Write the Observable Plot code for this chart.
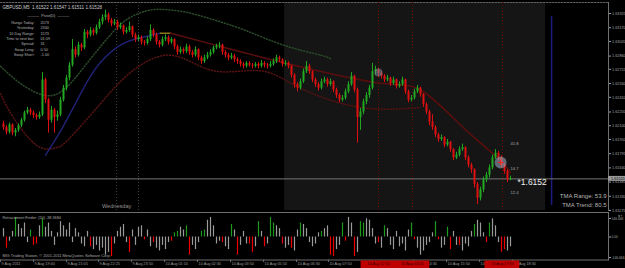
<!DOCTYPE html>
<html><head><meta charset="utf-8">
<script src="https://cdn.jsdelivr.net/npm/d3@7"></script>
<script src="https://cdn.jsdelivr.net/npm/@observablehq/plot@0.6"></script>
<style>
html,body{margin:0;padding:0;background:#000;}
#chart{position:relative;width:625px;height:268px;background:#000;overflow:hidden;}
#chart svg{position:absolute;left:0;overflow:visible;}
</style></head><body><div id="chart"></div>
<script>
// ---- data ----
const symbolTitle = "GBPUSD,M5  1.61522 1.61547 1.61511 1.61528";
const open = [
1.6212,1.6208,1.6203,1.6211,1.6202,1.6205,1.6210,1.6216,1.6224,1.6227,
1.6224,1.6221,1.6219,1.6222,1.6260,1.6238,1.6216,1.6227,1.6219,1.6222,
1.6238,1.6251,1.6262,1.6276,1.6293,1.6287,1.6298,1.6295,1.6312,1.6309,
1.6314,1.6311,1.6317,1.6323,1.6328,1.6331,1.6325,1.6321,1.6323,1.6317,
1.6319,1.6312,1.6314,1.6318,1.6309,1.6304,1.6306,1.6301,1.6300,1.6304,
1.6314,1.6309,1.6301,1.6298,1.6304,1.6306,1.6301,1.6304,1.6296,1.6290,
1.6293,1.6291,1.6296,1.6290,1.6287,1.6293,1.6284,1.6280,1.6284,1.6287,
1.6290,1.6295,1.6297,1.6298,1.6290,1.6287,1.6284,1.6286,1.6282,1.6280,
1.6277,1.6275,1.6278,1.6276,1.6275,1.6277,1.6275,1.6278,1.6276,1.6275,
1.6277,1.6280,1.6284,1.6282,1.6277,1.6278,1.6275,1.6265,1.6255,1.6251,
1.6258,1.6269,1.6275,1.6269,1.6260,1.6255,1.6251,1.6258,1.6260,1.6255,
1.6258,1.6249,1.6243,1.6238,1.6240,1.6247,1.6255,1.6264,1.6249,1.6219,
1.6225,1.6236,1.6243,1.6251,1.6269,1.6271,1.6267,1.6264,1.6260,1.6262,
1.6256,1.6260,1.6253,1.6255,1.6260,1.6247,1.6238,1.6240,1.6247,1.6251,
1.6244,1.6233,1.6225,1.6214,1.6208,1.6200,1.6195,1.6197,1.6189,1.6192,
1.6184,1.6175,1.6178,1.6184,1.6186,1.6175,1.6167,1.6162,1.6146,1.6131,
1.6140,1.6151,1.6156,1.6164,1.6175,1.6180,1.6175,1.6167,1.6160,1.6151];
const close = [
1.6208,1.6203,1.6211,1.6202,1.6205,1.6210,1.6216,1.6224,1.6227,1.6224,
1.6221,1.6219,1.6222,1.6260,1.6238,1.6216,1.6227,1.6219,1.6222,1.6238,
1.6251,1.6262,1.6276,1.6293,1.6287,1.6298,1.6295,1.6312,1.6309,1.6314,
1.6311,1.6317,1.6323,1.6328,1.6331,1.6325,1.6321,1.6323,1.6317,1.6319,
1.6312,1.6314,1.6318,1.6309,1.6304,1.6306,1.6301,1.6300,1.6304,1.6314,
1.6309,1.6301,1.6298,1.6304,1.6306,1.6301,1.6304,1.6296,1.6290,1.6293,
1.6291,1.6296,1.6290,1.6287,1.6293,1.6284,1.6280,1.6284,1.6287,1.6290,
1.6295,1.6297,1.6298,1.6290,1.6287,1.6284,1.6286,1.6282,1.6280,1.6277,
1.6275,1.6278,1.6276,1.6275,1.6277,1.6275,1.6278,1.6276,1.6275,1.6277,
1.6280,1.6284,1.6282,1.6277,1.6278,1.6275,1.6265,1.6255,1.6251,1.6258,
1.6269,1.6275,1.6269,1.6260,1.6255,1.6251,1.6258,1.6260,1.6255,1.6258,
1.6249,1.6243,1.6238,1.6240,1.6247,1.6255,1.6264,1.6249,1.6219,1.6225,
1.6236,1.6243,1.6251,1.6269,1.6271,1.6267,1.6264,1.6260,1.6262,1.6256,
1.6260,1.6253,1.6255,1.6260,1.6247,1.6238,1.6240,1.6247,1.6251,1.6244,
1.6233,1.6225,1.6214,1.6208,1.6200,1.6195,1.6197,1.6189,1.6192,1.6184,
1.6175,1.6178,1.6184,1.6186,1.6175,1.6167,1.6162,1.6146,1.6131,1.6140,
1.6151,1.6156,1.6164,1.6175,1.6180,1.6175,1.6167,1.6160,1.6151,1.6152];
const high = [
1.6215,1.6210,1.6213,1.6212,1.6207,1.6212,1.6218,1.6226,1.6230,1.6229,
1.6226,1.6223,1.6225,1.6268,1.6262,1.6240,1.6231,1.6229,1.6226,1.6241,
1.6254,1.6265,1.6279,1.6304,1.6296,1.6301,1.6300,1.6315,1.6314,1.6317,
1.6316,1.6320,1.6326,1.6331,1.6336,1.6333,1.6327,1.6326,1.6325,1.6322,
1.6320,1.6317,1.6323,1.6319,1.6311,1.6309,1.6308,1.6303,1.6307,1.6320,
1.6316,1.6311,1.6303,1.6307,1.6309,1.6308,1.6306,1.6305,1.6298,1.6296,
1.6295,1.6299,1.6298,1.6292,1.6296,1.6294,1.6286,1.6287,1.6290,1.6293,
1.6297,1.6299,1.6301,1.6299,1.6292,1.6289,1.6289,1.6288,1.6284,1.6282,
1.6279,1.6280,1.6280,1.6278,1.6279,1.6279,1.6281,1.6280,1.6278,1.6280,
1.6283,1.6287,1.6286,1.6283,1.6281,1.6280,1.6276,1.6267,1.6257,1.6261,
1.6272,1.6280,1.6277,1.6270,1.6262,1.6257,1.6261,1.6263,1.6262,1.6261,
1.6259,1.6251,1.6245,1.6243,1.6250,1.6258,1.6268,1.6265,1.6251,1.6229,
1.6239,1.6246,1.6254,1.6278,1.6275,1.6273,1.6269,1.6266,1.6265,1.6263,
1.6263,1.6261,1.6258,1.6263,1.6261,1.6249,1.6243,1.6250,1.6254,1.6252,
1.6245,1.6235,1.6227,1.6222,1.6210,1.6202,1.6200,1.6198,1.6195,1.6193,
1.6185,1.6181,1.6187,1.6190,1.6187,1.6177,1.6169,1.6163,1.6148,1.6143,
1.6154,1.6159,1.6167,1.6178,1.6184,1.6182,1.6177,1.6169,1.6162,1.6155];
const low = [
1.6205,1.6200,1.6201,1.6199,1.6198,1.6203,1.6208,1.6214,1.6222,1.6221,
1.6218,1.6216,1.6217,1.6220,1.6234,1.6202,1.6213,1.6202,1.6215,1.6220,
1.6236,1.6248,1.6259,1.6274,1.6284,1.6285,1.6291,1.6293,1.6305,1.6307,
1.6308,1.6309,1.6315,1.6320,1.6325,1.6322,1.6318,1.6319,1.6314,1.6315,
1.6309,1.6310,1.6312,1.6306,1.6301,1.6302,1.6298,1.6297,1.6298,1.6302,
1.6306,1.6298,1.6295,1.6296,1.6302,1.6298,1.6299,1.6293,1.6287,1.6288,
1.6288,1.6289,1.6287,1.6284,1.6285,1.6281,1.6277,1.6278,1.6282,1.6285,
1.6288,1.6293,1.6294,1.6287,1.6284,1.6281,1.6282,1.6279,1.6277,1.6274,
1.6272,1.6273,1.6274,1.6272,1.6273,1.6272,1.6273,1.6273,1.6272,1.6273,
1.6275,1.6278,1.6279,1.6274,1.6275,1.6272,1.6262,1.6251,1.6247,1.6249,
1.6256,1.6267,1.6266,1.6257,1.6252,1.6248,1.6249,1.6256,1.6252,1.6253,
1.6246,1.6240,1.6235,1.6236,1.6238,1.6245,1.6253,1.6246,1.6191,1.6205,
1.6222,1.6233,1.6240,1.6249,1.6265,1.6263,1.6261,1.6257,1.6258,1.6253,
1.6254,1.6250,1.6251,1.6253,1.6244,1.6235,1.6236,1.6238,1.6245,1.6241,
1.6230,1.6222,1.6210,1.6205,1.6197,1.6192,1.6193,1.6186,1.6187,1.6181,
1.6172,1.6173,1.6176,1.6182,1.6172,1.6164,1.6158,1.6142,1.6124,1.6128,
1.6137,1.6148,1.6153,1.6162,1.6173,1.6172,1.6164,1.6157,1.6148,1.6150];

// TMA channel (bar index, price)
const upperBand = [[-1,1.6275],[5.7,1.6256],[14,1.6243],[20.7,1.6251],[27.3,1.6276],[34,1.6303],[40.7,1.6325],[47.3,1.6335],[52.3,1.6337],[60.7,1.6334],[70.7,1.6325],[80.7,1.6314],[93.3,1.6298],[105.7,1.6287],[109,1.6283]];
const centerUp = [[14,1.6178],[20,1.6210],[26.7,1.6251],[32.3,1.6279],[39,1.6298],[45.7,1.6306],[52.3,1.6311]];
const centerTurn = [[52.3,1.6311],[55.7,1.6311]];
const centerDown = [[55.7,1.6311],[70.7,1.6298],[85.7,1.6285],[104.7,1.6270],[126.7,1.6256],[139,1.6249],[150.7,1.6216],[158,1.6194],[165.7,1.6172],[169,1.6159]];
const lowerBand = [[-1,1.6245],[3.3,1.6219],[11.3,1.6188],[17.3,1.6186],[21.3,1.6194],[32.3,1.6234],[42.3,1.6268],[55.7,1.6287],[70,1.6270],[85.7,1.6270],[99,1.6251],[119,1.6230],[139,1.6230]];

const priceTicks = [1.63325,1.63170,1.63020,1.62860,1.62715,1.62560,1.62410,1.62250,1.62100,1.61950,1.61795,1.61640,1.61485,1.61330,1.61175];
const bid = 1.6152;
const tmaLevels = [1.61906, 1.61633, 1.61371];
const tmaLevelText = ["41.8","14.7","12.4"];
const tmaInfo = ["TMA Range: 53.9","TMA Trend: 80.5"];
const pivotMarks = [[125,1.6268],[165.7,1.6170]];

const infoLabels = ["Range Today:","Yesterday:","10 Day Range:","Time to next bar:","Spread:","Swap Long:","Swap Short:"];
const infoValues = ["2073","2340","1573","01:09","31","0.50","-1.00"];

const daySeparators = [37.7, 45];
const dayName = "Wednesday";
const sessionBand = [93.7, 180.7];
const eventLines = [125, 136.3, 166.3];
const eventLabels = ["10 Aug 12:10","10 Aug 13:05","10 Aug 17:40"];
const futureLine = {i: 182.7, from: 1.6329, to: 1.6123};

const histValue = [
60,-80,-30,40,140,90,60,100,-40,50,
-60,-50,80,130,70,100,40,-60,30,110,
80,50,100,-40,60,30,-50,-70,40,-70,
-90,-60,-100,-80,-130,-110,-140,-50,40,70,
90,-40,-110,50,-60,70,80,-20,50,-70,
-40,-80,-100,-60,-90,-40,-30,30,40,70,
50,80,-130,-60,-90,-40,40,50,120,140,
80,-50,-30,-40,-70,-90,90,50,-130,-60,
40,-50,-50,-110,-70,110,40,-70,-50,140,
100,80,60,-50,-80,-60,-80,-100,50,100,
90,60,-40,-70,-50,30,40,60,80,-130,
-140,-90,-60,100,-30,140,100,-140,-110,110,
100,130,120,60,-50,-40,-80,80,60,-60,
-90,40,-70,-50,-100,50,100,-20,-80,-130,
-100,-60,-40,30,110,-20,-80,-60,70,-90,
40,-60,-60,-100,-50,-70,40,90,120,100,
30,-40,100,130,80,-40,-110,-90,-100,-70];
const histClass = (
"nrnngnnnng"+"rrngnnnnnn"+"nnnnnnnnnr"+"nnnnnnrnnn"+"nnrnnnnrnn"+"rnnnnnrggn"+
"ngrnnnggnn"+"nnnrnngnrn"+"nnrrngnrng"+"gnnrnnrnng"+"nnnnnngnnr"+"rnngrnnrng"+
"gnnnnrngnn"+"nnnnnngrnn"+"nnnngrnngr"+"nnrnnnngnn"+"nrgnnnrrnn").split("");
const histTicksTop = [146.666];
const histTicksRest = [0, -146.666];
const histTitle = "Retracement Finder: (50) -38.3684";
const copyright = "MIG Trading Station, \u00a9 2001-2011 MetaQuotes Software Corp.";

const timeIdx = [-1,10,21,31.7,42.7,53.7,64.7,75.7,86.7,97.7,108.3,136.7,147.7,158.7,169.7];
const timeText = ["9 Aug 2011","9 Aug 19:40","9 Aug 21:05","9 Aug 22:25","9 Aug 23:50","10 Aug 01:10","10 Aug 02:30","10 Aug 03:50","10 Aug 05:10","10 Aug 06:30","10 Aug 07:50","10 Aug 14:30","10 Aug 15:50","10 Aug 17:10","10 Aug 18:30"];

// ---- chart ----
const W = 625;
const xDomain = [-1, 201.667];
const FONT = "'Liberation Sans', Arial, sans-serif";
const GREEN = "#22a822", RED = "#de1010";
const candles = close.map((c, i) => ({i, o: open[i], h: high[i], l: low[i], c}));
const cc = d => d.c >= d.o ? GREEN : RED;
const pts = a => a.map(([i, p]) => ({i, p}));
const baseStyle = {background: "transparent", color: "#a0a0a0", fontFamily: FONT, fontSize: "3.8px", overflow: "visible"};
const indTickFmt = d => d === 0 ? "0.00" : d.toFixed(3);

const main = Plot.plot({
  width: W, height: 211, marginLeft: 0, marginRight: 17, marginTop: 2, marginBottom: 1,
  style: baseStyle,
  x: {domain: xDomain, axis: null},
  y: {domain: [1.61175, 1.63445], range: [210, 2], axis: null},
  marks: [
    Plot.rect([sessionBand], {x1: d => d[0], x2: d => d[1], fill: "#151515"}),
    Plot.frame({anchor: "top", stroke: "#5e5e5e", strokeDasharray: "1.5,1.5"}),
    Plot.ruleX(daySeparators, {stroke: "#3e3e3e", strokeDasharray: "1,2"}),
    Plot.ruleX(eventLines, {stroke: "#7a0000", strokeDasharray: "1,2"}),
    Plot.ruleX([futureLine], {x: "i", y1: "from", y2: "to", stroke: "#1c1c80", strokeWidth: 1.5}),
    Plot.line(pts(upperBand), {x: "i", y: "p", stroke: "#2a4a2a", strokeDasharray: "1,2", curve: "natural"}),
    Plot.line(pts(lowerBand), {x: "i", y: "p", stroke: "#561212", strokeDasharray: "1,2", curve: "natural"}),
    Plot.line(pts(centerUp), {x: "i", y: "p", stroke: "#22227a", strokeDasharray: "1,1", curve: "natural"}),
    Plot.line(pts(centerTurn), {x: "i", y: "p", stroke: "#8a7a18"}),
    Plot.line(pts(centerDown), {x: "i", y: "p", stroke: "#5c0e0e", curve: "natural"}),
    Plot.ruleY([bid], {stroke: "#767676"}),
    Plot.ruleX(candles, {x: "i", y1: "l", y2: "h", stroke: cc, strokeWidth: 1}),
    Plot.ruleX(candles, {x: "i", y1: "o", y2: "c", stroke: cc, strokeWidth: 2}),
    Plot.dot(pts([pivotMarks[0]]), {x: "i", y: "p", r: 4, fill: "#8090a0", fillOpacity: 0.5}),
    Plot.dot(pts([pivotMarks[1]]), {x: "i", y: "p", r: 6, fill: "#9ab0c4", fillOpacity: 0.55}),
    Plot.dot(pts([pivotMarks[1]]), {x: "i", y: "p", r: 2, symbol: "plus", stroke: "#ff2020", strokeWidth: 1}),
    Plot.text(tmaLevels, {x: candles.length - 1, y: d => d, text: (d, k) => tmaLevelText[k], textAnchor: "start", dx: 0, fontSize: 4.2, fill: "#a8a8a8"}),
    Plot.text([bid], {x: candles.length - 1, y: d => d, text: d => "*" + d.toFixed(4), textAnchor: "start", dx: 7, dy: 3.5, fontSize: 8.5, fill: "#f0f0f0"}),
    Plot.text([tmaInfo.join("\n")], {frameAnchor: "bottom-right", text: d => d, textAnchor: "end", dx: -2, dy: -4, lineHeight: 1.35, fontSize: 6, fill: "#b4b4b4"}),
    Plot.text([dayName], {x: daySeparators[0], frameAnchor: "bottom", text: d => d, dy: -3, fontSize: 5.6, fill: "#909090"}),
    Plot.text([symbolTitle], {frameAnchor: "top-left", text: d => d, textAnchor: "start", dx: 2, dy: 3, fontSize: 4.6, fill: "#cccccc"}),
    Plot.text(["\u2014\u2014\u2014  Pivot(D)  \u2014\u2014\u2014"], {frameAnchor: "top-left", text: d => d, dx: 27, dy: 12, fontSize: 3.9, fill: "#b0b0b0"}),
    Plot.text([infoLabels.join("\n")], {frameAnchor: "top-left", text: d => d, textAnchor: "end", dx: 34, dy: 17.5, lineHeight: 1.42, fontSize: 3.8, fill: "#b0b0b0"}),
    Plot.text([infoValues.join("\n")], {frameAnchor: "top-left", text: d => d, textAnchor: "start", dx: 40, dy: 17.5, lineHeight: 1.42, fontSize: 3.8, fill: "#b0b0b0"}),
    Plot.frame({anchor: "right", stroke: "#707070"}),
    Plot.axisY(priceTicks, {anchor: "right", tickSize: 2, tickPadding: 1.5, tickFormat: d => d.toFixed(5)}),
    Plot.rect([bid], {x1: xDomain[1], x2: xDomain[1] + 6, y1: d => d - 0.00027, y2: d => d + 0.00027, fill: "#9a9a9a"}),
    Plot.text([bid], {x: xDomain[1], y: d => d, text: d => d.toFixed(5), textAnchor: "start", dx: 2.5, fill: "#101010"})
  ]
});
main.style.top = "0px";

const bars = histValue.map((v, i) => ({i, v, k: histClass[i]}));
const barColor = {g: "#1c9a1c", r: "#ee0000", n: "#9a9a9a"};
const ind = Plot.plot({
  width: W, height: 48, marginLeft: 0, marginRight: 17, marginTop: 1, marginBottom: 0,
  style: baseStyle,
  x: {domain: xDomain, axis: null},
  y: {domain: [-146.666, 146.666], range: [46, 5], axis: null},
  marks: [
    Plot.frame({anchor: "top", stroke: "#6e6e6e"}),
    Plot.frame({anchor: "right", stroke: "#707070"}),
    Plot.ruleX(bars, {x: "i", y1: 0, y2: "v", stroke: d => barColor[d.k], strokeWidth: 1.2}),
    Plot.text([histTitle], {frameAnchor: "top-left", text: d => d, textAnchor: "start", dx: 2, dy: 4, fill: "#a8a8a8"}),
    Plot.text([copyright], {frameAnchor: "bottom-left", text: d => d, textAnchor: "start", dx: 2, dy: -3, fontSize: 3.9, fill: "#a8a8a8"}),
    Plot.axisY(histTicksTop, {anchor: "right", tickSize: 2, tickPadding: 1, fontSize: 3.3, dy: 2, tickFormat: indTickFmt}),
    Plot.axisY(histTicksRest, {anchor: "right", tickSize: 2, tickPadding: 1, fontSize: 3.3, tickFormat: indTickFmt})
  ]
});
ind.style.top = "211px";

const timeAxis = Plot.plot({
  width: W, height: 9, marginLeft: 0, marginRight: 17, marginTop: 0.5, marginBottom: 0,
  style: baseStyle,
  x: {domain: xDomain, axis: null},
  y: {axis: null},
  marks: [
    Plot.frame({anchor: "top", stroke: "#6e6e6e"}),
    Plot.tickX(timeIdx, {x: d => d, stroke: "#6e6e6e", insetBottom: 6}),
    Plot.text(timeIdx, {x: d => d, text: (d, k) => timeText[k], textAnchor: "start", dx: 1, frameAnchor: "middle", fill: "#9c9c9c"}),
    Plot.rect(eventLines, {x1: d => d - 5.8, x2: d => d + 5.8, fill: "#c00000", insetTop: 1}),
    Plot.text(eventLines, {x: d => d, text: (d, k) => eventLabels[k], frameAnchor: "middle", fill: "#2a0000"})
  ]
});
timeAxis.style.top = "259px";

const host = document.getElementById("chart");
host.append(main, ind, timeAxis);
</script></body></html>
